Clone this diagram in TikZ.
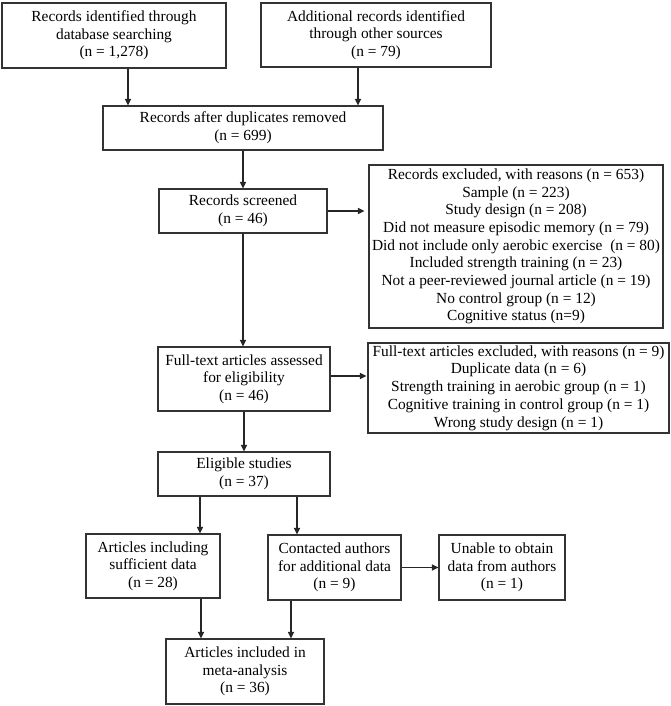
\documentclass[tikz,border=0pt]{standalone}
\usepackage{fontspec}
\setmainfont{Liberation Serif}
\usetikzlibrary{arrows.meta}
\begin{document}
\begin{tikzpicture}[x=1pt,y=-1pt,
  box/.style={draw=black!80, line width=1.1pt, rectangle, align=center, inner sep=0pt,
    font=\fontsize{15.4}{17.7}\selectfont, text=black},
  arr/.style={draw=black!85, line width=1.1pt, -{Triangle[length=6.5pt,width=6pt]}}]
\fill[white] (0,0) rectangle (671,706);
\useasboundingbox (0,0) rectangle (671,706);

\node[box, minimum width=224pt, minimum height=65pt] (A) at (114,35.5)
  {Records identified through\\database searching\\(n = 1,278)};
\node[box, minimum width=230pt, minimum height=64pt] (B) at (376,35)
  {Additional records identified\\through other sources\\(n = 79)};
\node[box, minimum width=280pt, minimum height=44pt] (C) at (243,128)
  {Records after duplicates removed\\(n = 699)};
\node[box, minimum width=168pt, minimum height=44pt] (S) at (243,211)
  {Records screened\\(n = 46)};
\node[box, minimum width=294pt, minimum height=163pt] (E1) at (516,246.5)
  {Records excluded, with reasons (n = 653)\\Sample (n = 223)\\Study design (n = 208)\\Did not measure episodic memory (n = 79)\\Did not include only aerobic exercise\ \ (n = 80)\\Included strength training (n = 23)\\Not a peer-reviewed journal article (n = 19)\\No control group (n = 12)\\Cognitive status (n=9)};
\node[box, minimum width=172pt, minimum height=64pt] (F) at (244,379)
  {Full-text articles assessed\\for eligibility\\(n = 46)};
\node[box, minimum width=301pt, minimum height=90pt] (E2) at (518.5,388)
  {Full-text articles excluded, with reasons (n = 9)\\Duplicate data (n = 6)\\Strength training in aerobic group (n = 1)\\Cognitive training in control group (n = 1)\\Wrong study design (n = 1)};
\node[box, minimum width=172pt, minimum height=44pt] (El) at (244,474)
  {Eligible studies\\(n = 37)};
\node[box, minimum width=134pt, minimum height=64pt] (Su) at (153,566)
  {Articles including\\sufficient data\\(n = 28)};
\node[box, minimum width=133pt, minimum height=65pt] (Co) at (334.5,567.5)
  {Contacted authors\\for additional data\\(n = 9)};
\node[box, minimum width=126pt, minimum height=65pt] (Un) at (502,567.5)
  {Unable to obtain\\data from authors\\(n = 1)};
\node[box, minimum width=158pt, minimum height=65pt] (Fi) at (245,671.5)
  {Articles included in\\meta-analysis\\(n = 36)};

\draw[arr] ([xshift=14pt]A.south) -- ([xshift=14pt]A.south |- C.north);
\draw[arr] ([xshift=-18pt]B.south) -- ([xshift=-18pt]B.south |- C.north);
\draw[arr] (C.south) -- (C.south |- S.north);
\draw[arr, shorten >=4pt] (S.east) -- (S.east -| E1.west);
\draw[arr] (S.south) -- (S.south |- F.north);
\draw[arr, shorten >=1pt] ([yshift=3pt]F.east) -- ([yshift=3pt]F.east -| E2.west);
\draw[arr] (F.south) -- (F.south |- El.north);
\draw[arr] ([xshift=-44pt]El.south) -- ([xshift=-44pt]El.south |- Su.north);
\draw[arr] ([xshift=53pt]El.south) -- ([xshift=53pt]El.south |- Co.north);
\draw[arr] (Co.east) -- (Co.east -| Un.west);
\draw[arr] ([xshift=48pt]Su.south) -- ([xshift=48pt]Su.south |- Fi.north);
\draw[arr] ([xshift=-43.5pt]Co.south) -- ([xshift=-43.5pt]Co.south |- Fi.north);
\end{tikzpicture}
\end{document}
